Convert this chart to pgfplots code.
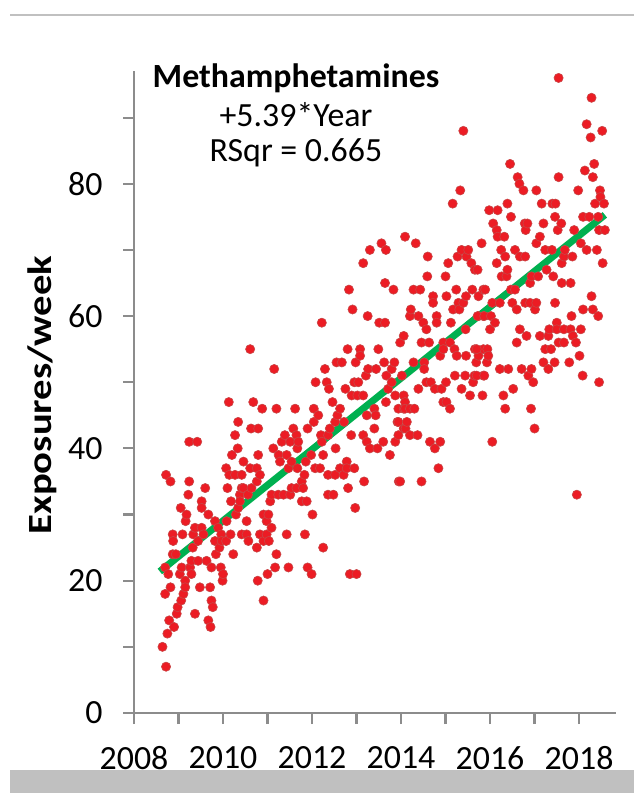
\documentclass[border=0pt]{standalone}
\usepackage{pgfplots}
\pgfplotsset{compat=1.18}
\usepackage{pgfplotstable}
\usepackage{fontspec}
\setmainfont{Carlito}
\definecolor{dotfill}{RGB}{236,28,36}
\definecolor{dotdraw}{RGB}{200,70,70}
\definecolor{fitgreen}{RGB}{0,176,80}
\definecolor{axgray}{RGB}{140,140,140}
\definecolor{bandgray}{RGB}{192,192,192}
\pgfplotstableread{
x y
2008.64 10
2008.72 7
2008.75 12
2008.70 18
2008.70 22
2008.72 36
2008.77 21
2008.79 14
2008.82 35
2008.82 19
2008.87 27
2008.87 24
2008.88 26
2008.90 13
2008.94 24
2008.96 15
2008.98 16
2009.03 21
2009.05 31
2009.06 17
2009.07 22
2009.09 27
2009.11 18
2009.15 20
2009.15 19
2009.16 29
2009.18 30
2009.22 33
2009.24 35
2009.24 41
2009.26 22
2009.29 23
2009.29 21
2009.32 25
2009.33 27
2009.37 28
2009.37 15
2009.42 41
2009.44 26
2009.44 23
2009.48 19
2009.52 28
2009.52 32
2009.52 31
2009.56 27
2009.60 34
2009.63 23
2009.67 30
2009.67 14
2009.71 19
2009.72 13
2009.74 22
2009.74 17
2009.77 16
2009.82 29
2009.82 26
2009.84 24
2009.89 28
2009.92 25
2009.95 22
2009.96 27
2009.97 26
2009.99 20
2010.00 21
2010.07 37
2010.07 26
2010.08 29
2010.10 34
2010.13 47
2010.14 36
2010.17 27
2010.18 32
2010.20 39
2010.23 24
2010.27 42
2010.27 36
2010.29 30
2010.33 40
2010.34 44
2010.34 31
2010.38 33
2010.42 34
2010.42 36
2010.42 27
2010.46 38
2010.38 32
2010.46 34
2010.53 29
2010.53 27
2010.56 33
2010.57 26
2010.61 55
2010.61 37
2010.63 43
2010.64 34
2010.68 47
2010.76 37
2010.76 35
2010.76 25
2010.78 20
2010.79 43
2010.79 39
2010.83 36
2010.83 27
2010.88 46
2010.91 30
2010.91 26
2010.91 17
2010.98 29
2010.98 27
2011.00 21
2011.02 30
2011.03 26
2011.06 32
2011.09 33
2011.09 28
2011.13 40
2011.15 52
2011.17 22
2011.20 46
2011.20 24
2011.24 33
2011.25 39
2011.28 38
2011.32 41
2011.36 33
2011.39 42
2011.43 39
2011.43 27
2011.47 37
2011.47 22
2011.51 41
2011.51 33
2011.54 38
2011.54 34
2011.58 43
2011.62 46
2011.65 42
2011.65 34
2011.67 40
2011.67 37
2011.69 41
2011.77 35
2011.77 32
2011.80 34
2011.83 36
2011.84 27
2011.86 38
2011.88 32
2011.90 43
2011.90 22
2011.98 39
2011.99 21
2012.01 30
2012.04 46
2012.04 44
2012.07 37
2012.08 50
2012.14 45
2012.18 37
2012.22 59
2012.25 25
2012.29 52
2012.20 42
2012.22 41
2012.25 39
2012.33 50
2012.36 42
2012.36 36
2012.36 33
2012.38 49
2012.40 43
2012.46 47
2012.48 33
2012.52 44
2012.52 36
2012.53 40
2012.55 53
2012.57 45
2012.63 46
2012.63 37
2012.67 53
2012.71 36
2012.72 44
2012.75 49
2012.78 38
2012.78 37
2012.80 55
2012.81 34
2012.83 64
2012.85 21
2012.88 42
2012.89 48
2012.91 61
2012.95 50
2012.95 37
2012.97 31
2012.98 53
2013.00 21
2013.02 48
2013.04 50
2013.08 55
2013.08 54
2013.15 68
2013.15 48
2013.15 42
2013.17 35
2013.21 51
2013.23 45
2013.23 41
2013.25 60
2013.26 52
2013.30 70
2013.30 40
2013.40 46
2013.40 43
2013.43 45
2013.44 52
2013.47 40
2013.49 55
2013.51 59
2013.56 71
2013.60 41
2013.62 53
2013.64 65
2013.64 59
2013.66 70
2013.66 47
2013.67 51
2013.71 49
2013.75 39
2013.79 52
2013.79 50
2013.83 64
2013.85 53
2013.87 48
2013.87 41
2013.92 44
2013.94 46
2013.95 35
2013.98 56
2014.06 57
2014.06 48
2014.06 46
2014.06 43
2014.09 72
2013.94 44
2013.94 42
2013.98 35
2014.02 51
2014.09 47
2014.09 46
2014.10 43
2014.13 44
2014.20 60
2014.20 46
2014.20 42
2014.22 61
2014.28 64
2014.28 53
2014.30 46
2014.33 71
2014.37 42
2014.39 60
2014.39 49
2014.43 64
2014.46 56
2014.46 35
2014.50 59
2014.52 53
2014.52 52
2014.57 58
2014.57 50
2014.59 66
2014.60 69
2014.63 56
2014.65 41
2014.67 50
2014.72 63
2014.72 62
2014.76 49
2014.76 40
2014.80 60
2014.80 59
2014.84 37
2014.88 54
2014.88 41
2014.91 49
2014.95 56
2014.95 55
2014.95 47
2015.00 66
2015.01 50
2015.02 63
2015.02 47
2015.06 68
2015.10 56
2015.10 46
2015.12 59
2015.16 77
2015.17 61
2015.20 55
2015.21 51
2015.24 64
2015.25 54
2015.27 69
2015.29 62
2015.31 61
2015.33 79
2015.36 70
2015.36 49
2015.40 88
2015.40 62
2015.44 51
2015.45 58
2015.46 63
2015.46 54
2015.47 69
2015.51 70
2015.55 48
2015.58 68
2015.60 64
2015.62 50
2015.65 51
2015.66 67
2015.66 55
2015.69 53
2015.72 67
2015.74 63
2015.74 60
2015.74 54
2015.81 71
2015.83 48
2015.85 64
2015.85 60
2015.85 55
2015.85 51
2015.70 55
2015.70 51
2015.72 60
2015.87 60
2015.87 51
2015.89 64
2015.93 53
2015.94 55
2015.96 54
2015.98 76
2016.00 58
2016.02 60
2016.05 62
2016.05 41
2016.07 74
2016.11 59
2016.15 73
2016.15 68
2016.17 76
2016.17 72
2016.22 62
2016.22 52
2016.25 70
2016.26 66
2016.30 48
2016.32 72
2016.34 69
2016.34 46
2016.37 66
2016.39 77
2016.39 67
2016.41 52
2016.45 83
2016.47 75
2016.47 64
2016.50 62
2016.52 49
2016.56 70
2016.56 64
2016.60 61
2016.60 56
2016.62 81
2016.66 80
2016.67 69
2016.67 58
2016.71 52
2016.75 79
2016.78 74
2016.79 69
2016.79 62
2016.80 73
2016.82 57
2016.84 74
2016.86 51
2016.90 65
2016.90 62
2016.92 46
2016.93 66
2016.93 52
2016.97 50
2017.00 43
2017.01 61
2017.04 79
2017.04 71
2017.04 62
2017.08 66
2017.12 72
2017.12 57
2017.16 77
2017.20 74
2017.20 53
2017.24 70
2017.24 55
2017.27 67
2017.31 57
2017.31 52
2017.33 58
2017.37 55
2017.39 70
2017.40 77
2017.42 66
2017.45 53
2017.46 75
2017.46 62
2017.47 77
2017.50 59
2017.52 73
2017.54 96
2017.54 81
2017.54 56
2017.50 58
2017.60 74
2017.61 68
2017.61 65
2017.66 69
2017.66 58
2017.66 56
2017.68 70
2017.78 53
2017.81 65
2017.81 58
2017.83 60
2017.85 69
2017.86 57
2017.89 73
2017.93 56
2017.95 33
2017.98 79
2018.01 54
2018.04 71
2018.04 58
2018.08 51
2018.09 75
2018.09 61
2018.13 82
2018.17 89
2018.17 70
2018.23 75
2018.26 87
2018.28 93
2018.28 63
2018.31 81
2018.31 61
2018.34 83
2018.36 77
2018.40 70
2018.43 75
2018.43 60
2018.45 73
2018.45 50
2018.47 79
2018.48 78
2018.52 88
2018.53 68
2018.56 77
2018.58 73
}\pts
\begin{document}
\begin{tikzpicture}
\fill[white] (0,0) rectangle (634bp,793bp);
\fill[bandgray] (10bp,0) rectangle (634bp,23bp);
\draw[bandgray, line width=2bp] (10bp,778bp) -- (634bp,778bp);
\begin{axis}[
  at={(134bp,80bp)}, anchor=south west, scale only axis,
  width=482bp, height=642bp,
  xmin=2008, xmax=2018.83, ymin=0, ymax=97.05,
  axis x line*=bottom, axis y line*=left,
  axis line style={axgray, line width=2.2bp, -},
  tick style={axgray, line width=2.2bp},
  tick align=outside,
  major tick length=11bp, minor tick length=11bp,
  xtick={2008,2010,2012,2014,2016,2018}, minor xtick={2009,2011,2013,2015,2017},
  xticklabels={2008,2010,2012,2014,2016,2018},
  ytick={0,20,40,60,80}, minor ytick={10,30,50,70,90},
  yticklabels={0,20,40,60,80},
  ticklabel style={font=\fontsize{34}{40}\selectfont, text=black},
  xticklabel style={yshift=-19bp},
  yticklabel style={xshift=-17bp},
  clip=false,
]
\addplot[only marks, mark=*, mark size=4.6bp,
  mark options={fill=dotfill, draw=dotdraw, line width=0.6bp}] table[x=x,y=y] {\pts};
\addplot[fitgreen, line width=7bp] coordinates {(2008.58,21.4) (2018.58,75.3)};
\end{axis}
\node[rotate=90, font=\bfseries\fontsize{34}{40}\selectfont] at (42bp,398bp) {\scalebox{1.2}[1]{Exposures/week}};
\node[anchor=base, font=\bfseries\fontsize{34}{40}\selectfont] at (296bp,705bp) {Methamphetamines};
\node[anchor=base, font=\fontsize{34}{40}\selectfont] at (296bp,666bp) {+5.39*Year};
\node[anchor=base, font=\fontsize{34}{40}\selectfont] at (296bp,631bp) {RSqr = 0.665};
\end{tikzpicture}
\end{document}
